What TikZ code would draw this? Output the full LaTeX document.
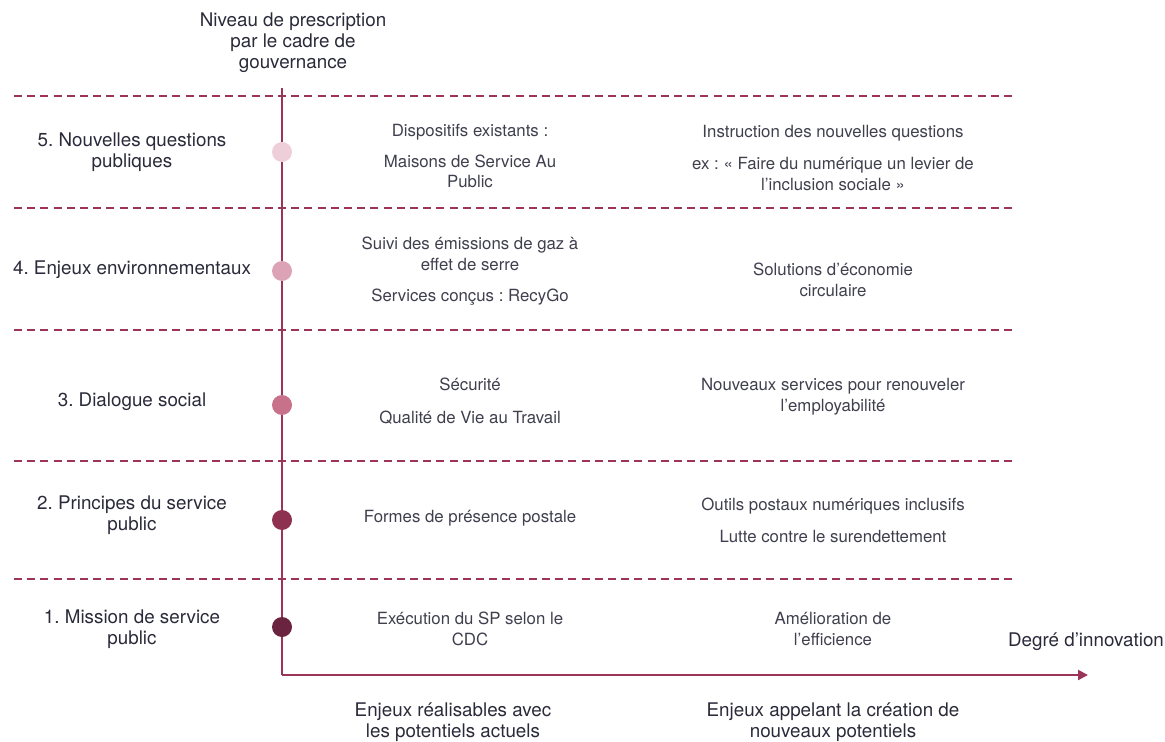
\documentclass[tikz,border=0pt]{standalone}
\usepackage{fontspec}
\setmainfont{TeX Gyre Heros}
\usepackage{tikz}
\usetikzlibrary{arrows.meta}
\definecolor{axe}{RGB}{155,52,88}
\definecolor{ink}{RGB}{42,42,58}
\definecolor{niv5}{RGB}{238,206,216}
\definecolor{niv4}{RGB}{219,163,181}
\definecolor{niv3}{RGB}{200,113,138}
\definecolor{niv2}{RGB}{142,48,80}
\definecolor{niv1}{RGB}{107,36,64}
\frenchspacing

\begin{document}
\begin{tikzpicture}[x=0.5pt, y=-0.5pt, >={Triangle[length=5pt, width=5pt]},
	titre/.style={text=ink, align=center, font=\fontsize{9.4}{10.6}\selectfont, inner sep=0pt},
	cell/.style={text=ink!90, align=center, font=\fontsize{8.4}{10.4}\selectfont, inner sep=0pt},
	pastille/.style={circle, minimum size=10pt, inner sep=0pt},
	sep/.style={axe, line width=0.75pt, dash pattern=on 4pt off 2.6pt}]
	\useasboundingbox (0,0) rectangle (1165,742);
	% axes
	\coordinate (haut) at (282,88);
	\coordinate (o) at (282,675);
	\coordinate (fin) at (1088,675);
	% separations
	\foreach \y [count=\i] in {96,208,330,461,579} {
		\coordinate (g\i) at (14,\y);
		\coordinate (d\i) at (1013,\y);
		\draw[sep] (g\i) -- (d\i);
	}
	\draw[axe, line width=1pt] (haut) -- (o);
	\draw[axe, line width=1pt, ->] (o) -- (fin);
	% pastilles
	\node[pastille, fill=niv5] (p5) at (282,152) {};
	\node[pastille, fill=niv4] (p4) at (282,271) {};
	\node[pastille, fill=niv3] (p3) at (282,405) {};
	\node[pastille, fill=niv2] (p2) at (282,520) {};
	\node[pastille, fill=niv1] (p1) at (282,627) {};
	% titres des axes
	\node[titre] (ty) at (293,43) {Niveau de prescription\\par le cadre de\\gouvernance};
	\node[titre] (tx) at (1086,642) {Degré d’innovation};
	\node[titre] (ba) at (453,722) {Enjeux réalisables avec\\les potentiels actuels};
	\node[titre] (bb) at (833,722) {Enjeux appelant la création de\\nouveaux potentiels};
	% niveaux
	\node[titre] (n5) at (132,152) {5. Nouvelles questions\\publiques};
	\node[titre] (n4) at (132,270) {4. Enjeux environnementaux};
	\node[titre] (n3) at (132,402) {3. Dialogue social};
	\node[titre] (n2) at (132,515) {2. Principes du service\\public};
	\node[titre] (n1) at (132,629) {1. Mission de service\\public};
	% enjeux actuels
	\node[cell] (a5) at (470,156) {Dispositifs existants :\\[5pt]Maisons de Service Au\\Public};
	\node[cell] (a4) at (470,271) {Suivi des émissions de gaz à\\effet de serre\\[5pt]Services conçus : RecyGo};
	\node[cell] (a3) at (470,401) {Sécurité\\[6pt]Qualité de Vie au Travail};
	\node[cell] (a2) at (470,518) {Formes de présence postale};
	\node[cell] (a1) at (470,629) {Exécution du SP selon le\\CDC};
	% nouveaux potentiels
	\node[cell] (b5) at (833,158) {Instruction des nouvelles questions\\[5.5pt]ex : « Faire du numérique un levier de\\l’inclusion sociale »};
	\node[cell] (b4) at (833,280) {Solutions d’économie\\circulaire};
	\node[cell] (b3) at (833,397) {Nouveaux services pour renouveler\\l’employabilité};
	\node[cell] (b2) at (833,520) {Outils postaux numériques inclusifs\\[5.5pt]Lutte contre le surendettement};
	\node[cell] (b1) at (833,629) {Amélioration de\\l’efficience};
\end{tikzpicture}
\end{document}
